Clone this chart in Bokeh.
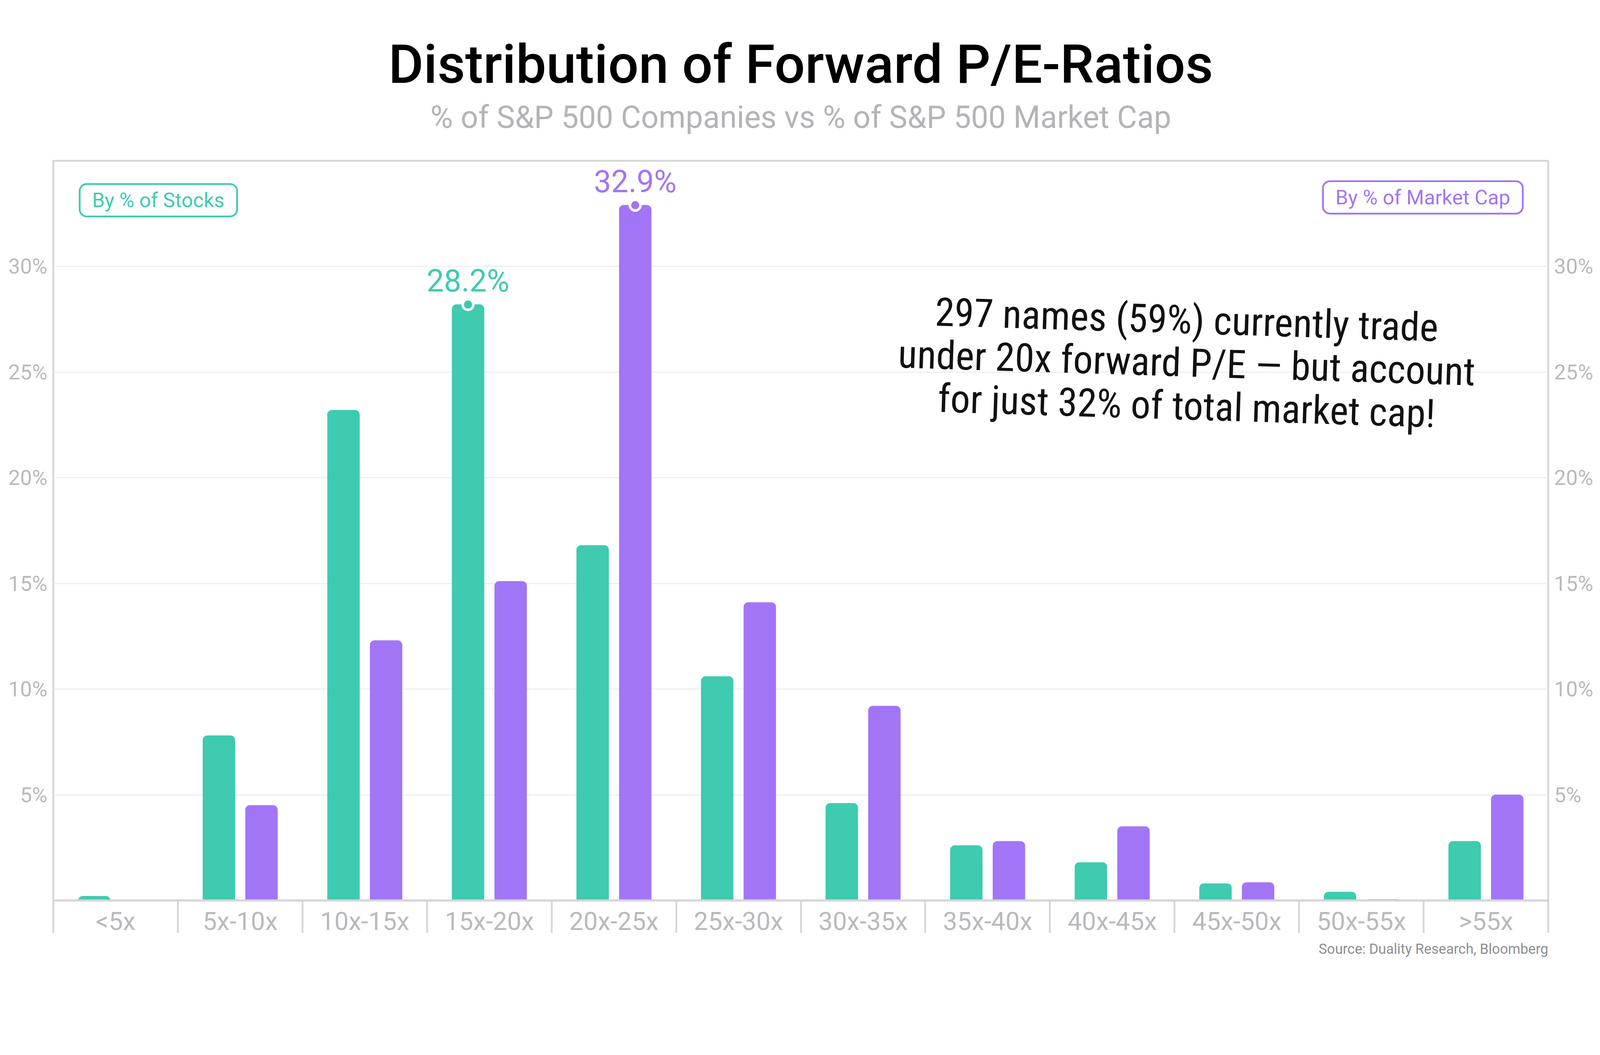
import numpy as np

from bokeh.plotting import figure
from bokeh.models import (Range1d, FixedTicker, PrintfTickFormatter, LinearAxis,
                          Label, LabelSet, ColumnDataSource, Title)
from bokeh.core.properties import value
from bokeh.transform import dodge
from bokeh.embed import file_html
from bokeh.resources import INLINE

# data
categories = ["<5x", "5x-10x", "10x-15x", "15x-20x", "20x-25x", "25x-30x",
              "30x-35x", "35x-40x", "40x-45x", "45x-50x", "50x-55x", ">55x"]
pct_stocks = [0.2, 7.8, 23.2, 28.2, 16.8, 10.6, 4.6, 2.6, 1.8, 0.8, 0.4, 2.8]
pct_mktcap = [0.0, 4.5, 12.3, 15.1, 32.9, 14.1, 9.2, 2.8, 3.5, 0.85, 0.05, 5.0]
y_ticks = [5, 10, 15, 20, 25, 30]

title = "Distribution of Forward P/E-Ratios"
subtitle = "% of S&P 500 Companies vs % of S&P 500 Market Cap"
legend_stocks = "By % of Stocks"
legend_mktcap = "By % of Market Cap"
note_lines = ["297 names (59%) currently trade",
              "under 20x forward P/E \u2014 but account",
              "for just 32% of total market cap!"]
source_note = "Source: Duality Research, Bloomberg"

GREEN = "#3ecbb0"
PURPLE = "#a275f6"
FRAME = "#d5d5da"
TICK_GREY = "#b9b9be"
FONT = "Roboto"

# the page comes out magnified, so the layout is worked out in
# reference-picture pixels and scaled down by K
K = 0.9115


def s(v):
    return v * K


W = int(4500 * K - 16)
fl, ft = round(149 * K), round(451 * K)
fr, fb = round(4348 * K), round(2528 * K)
H = fb + 200

centers = np.arange(len(categories)) + 0.5
OFF = 0.171
BAR_W = 0.257

p = figure(width=W, height=H, x_range=Range1d(0, len(categories)), y_range=Range1d(0, 35),
           output_backend="svg", toolbar_location=None, title_location=None,
           min_border_left=fl, min_border_right=W - fr,
           min_border_top=ft, min_border_bottom=H - fb)
p.background_fill_color = "white"
p.border_fill_color = "white"
p.outline_line_color = FRAME
p.outline_line_width = s(5)

# bars
src = ColumnDataSource(dict(x=centers, stocks=pct_stocks, mktcap=pct_mktcap))
rad = int(s(13))
p.vbar(x=dodge("x", -OFF), top="stocks", width=BAR_W, source=src,
       color=GREEN, border_radius=(rad, rad, 0, 0))
p.vbar(x=dodge("x", OFF), top="mktcap", width=BAR_W, source=src,
       color=PURPLE, border_radius=(rad, rad, 0, 0))

# peak markers + value labels
for vals, off, col in [(pct_stocks, -OFF, GREEN), (pct_mktcap, OFF, PURPLE)]:
    i = int(np.argmax(vals))
    pk = ColumnDataSource(dict(x=[centers[i]], y=[vals[i]], text=["%.1f%%" % vals[i]]))
    p.scatter(x=dodge("x", off), y="y", source=pk, size=s(30),
              fill_color=col, line_color="white", line_width=s(7))
    p.add_layout(LabelSet(x=dodge("x", off), y="y", text="text", source=pk,
                          y_offset=s(36), text_align="center", text_baseline="alphabetic",
                          text_font=value(FONT), text_font_size="%dpx" % s(87),
                          text_color=col))

# y axes (left + right)
yfmt = PrintfTickFormatter(format="%d%%")
p.add_layout(LinearAxis(), "right")
for ax in p.yaxis:
    ax.ticker = FixedTicker(ticks=y_ticks)
    ax.formatter = yfmt
    ax.axis_line_color = None
    ax.major_tick_line_color = None
    ax.minor_tick_line_color = None
    ax.major_tick_out = 0
    ax.minor_tick_out = 0
    ax.major_label_standoff = int(s(17))
    ax.major_label_text_font = FONT
    ax.major_label_text_font_size = "%dpx" % s(60)
    ax.major_label_text_color = TICK_GREY

p.ygrid.ticker = FixedTicker(ticks=y_ticks)
p.ygrid.grid_line_color = "#ececef"
p.ygrid.grid_line_width = s(3)
p.xgrid.visible = False

# x axis: labels at category centres, separators drawn as minor ticks
sep = int(s(92))
xa = p.xaxis[0]
xa.ticker = FixedTicker(ticks=list(centers), minor_ticks=list(range(len(categories) + 1)))
xa.major_label_overrides = {float(c): lab for c, lab in zip(centers, categories)}
xa.axis_line_color = FRAME
xa.axis_line_width = s(6)
xa.major_tick_line_color = None
xa.major_tick_out = 0
xa.major_tick_in = 0
xa.minor_tick_line_color = FRAME
xa.minor_tick_line_width = s(5)
xa.minor_tick_out = sep
xa.minor_tick_in = 0
xa.major_label_standoff = int(s(17)) - sep
xa.major_label_text_font = FONT
xa.major_label_text_font_size = "%dpx" % s(72)
xa.major_label_text_color = TICK_GREY

# title + subtitle (subtitle is nearest the frame)
p.add_layout(Title(text=subtitle, align="center", vertical_align="bottom", standoff=132,
                   text_font=FONT, text_font_style="normal",
                   text_font_size="%dpx" % s(87), text_color="#b4b4b8"), "above")
p.add_layout(Title(text=title, align="center", vertical_align="bottom", standoff=-120,
                   text_font="Roboto Medium, Roboto", text_font_style="normal",
                   text_font_size="%dpx" % s(152), text_color="#000000"), "above")

# source, under the category labels
p.add_layout(Title(text=source_note, align="right", vertical_align="bottom", standoff=14,
                   text_font=FONT, text_font_style="normal",
                   text_font_size="%dpx" % s(40), text_color="#8e8e92"), "below")

# series tags
pad = (int(s(36)), int(s(13)))
p.add_layout(Label(x=s(74), y=s(1966), x_units="screen", y_units="screen",
                   text=legend_stocks, text_align="left", text_baseline="alphabetic",
                   text_font=FONT, text_font_size="%dpx" % s(58), text_color=GREEN,
                   background_fill_color="white", border_line_color=GREEN,
                   border_line_width=s(5), border_radius=int(s(20)), padding=pad))
p.add_layout(Label(x=s(4127), y=s(1974), x_units="screen", y_units="screen",
                   text=legend_mktcap, text_align="right", text_baseline="alphabetic",
                   text_font=FONT, text_font_size="%dpx" % s(58), text_color=PURPLE,
                   background_fill_color="white", border_line_color=PURPLE,
                   border_line_width=s(5), border_radius=int(s(20)), padding=pad))

# hand-written note
note_y = [1630, 1509, 1388]
for line, ny in zip(note_lines, note_y):
    p.add_layout(Label(x=s(3183), y=s(ny), x_units="screen", y_units="screen",
                       text=line, text_align="center", text_baseline="alphabetic",
                       angle=-0.031, text_font="Roboto Condensed, Roboto",
                       text_font_size="%dpx" % s(111), text_color="#111111"))

open("out.html", "w").write(file_html(p, INLINE))
